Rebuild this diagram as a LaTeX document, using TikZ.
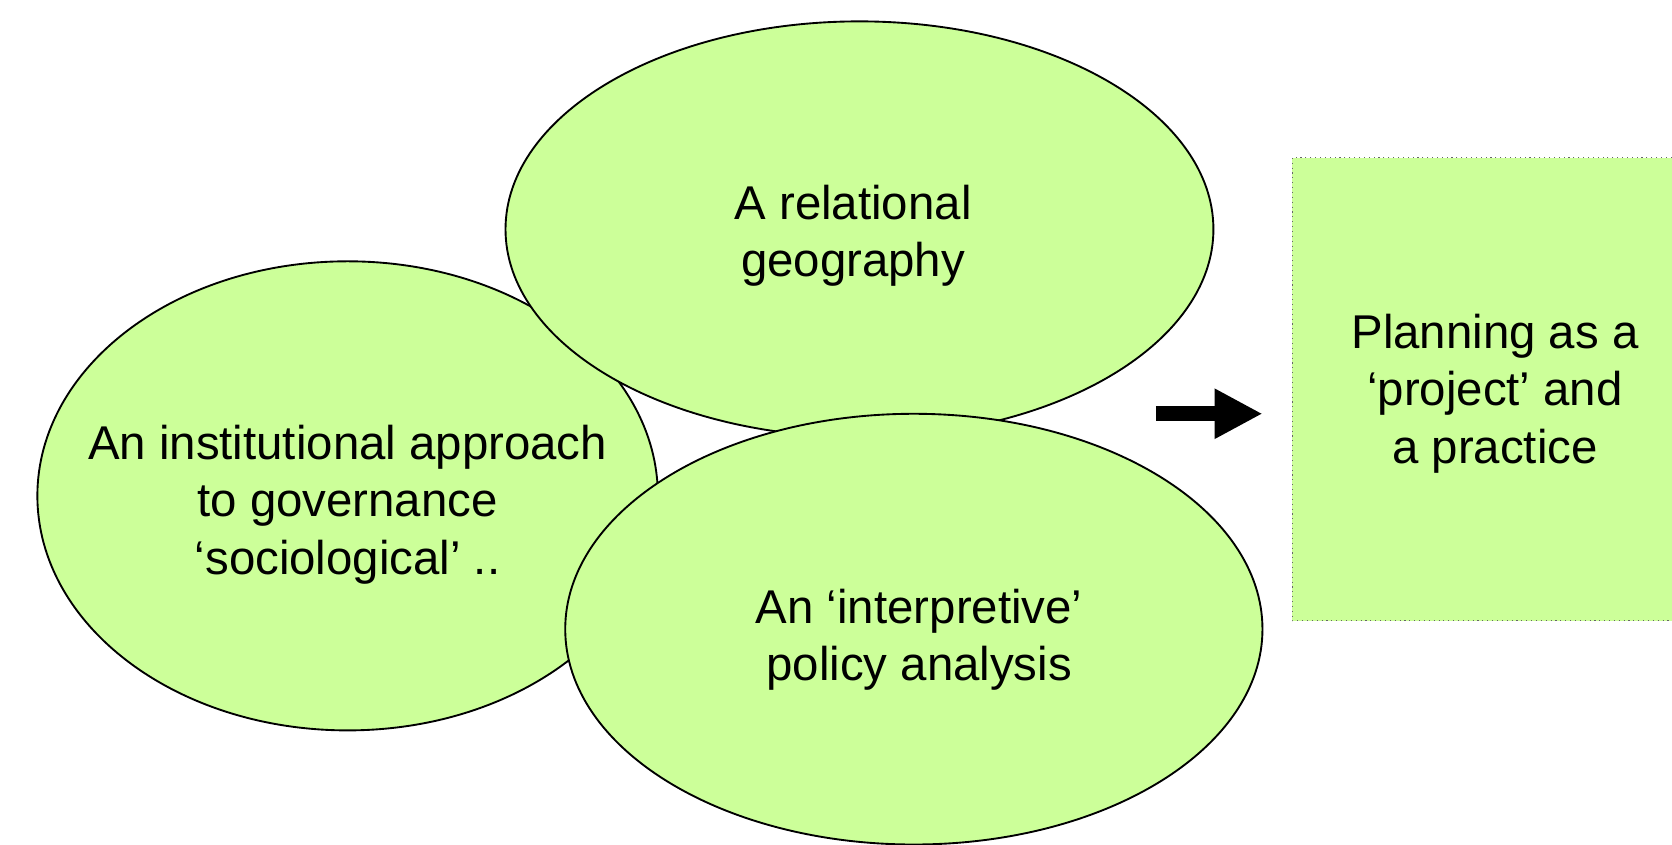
\documentclass[tikz,border=0pt]{standalone}
\usepackage{fontspec}
\setmainfont{Liberation Sans}
\usetikzlibrary{shapes.geometric,arrows.meta}
\definecolor{lgreen}{HTML}{CCFF99}
\begin{document}
\begin{tikzpicture}[x=0.02cm,y=-0.02cm,
  bubble/.style={ellipse, draw=black, line width=1pt, fill=lgreen, inner sep=0pt},
  label/.style={align=center, inner sep=0pt, font={\fontsize{25.3pt}{30.7pt}\selectfont}},
  outbox/.style={draw=black!60, dotted, line width=0.6pt, fill=lgreen},
  blockarrow/.style={line width=0.28cm, -{Triangle[length=0.9cm,width=0.88cm]}}]
\useasboundingbox (0,0) rectangle (1568,792);
\clip (0,0) rectangle (1568,792);
% left ellipse
\node[bubble, minimum width=11.64cm, minimum height=8.8cm] (inst) at (326,465) {};
\node[label] (instT) at (326,473)
  {An institutional approach\\to governance\\‘sociological’ ..};
% top ellipse
\node[bubble, minimum width=13.28cm, minimum height=7.8cm] (rel) at (806,215) {};
\node[label] (relT) at (800,221) {A relational\\geography};
% bottom ellipse
\node[bubble, minimum width=13.08cm, minimum height=8.08cm] (interp) at (857,590) {};
\node[label] (interpT) at (862,600) {An ‘interpretive’\\policy analysis};
% output box
\draw[outbox] (1212,148) rectangle (1600,582);
\node[label] (plan) at (1402,369) {Planning as a\\‘project’ and\\a practice};
% arrow
\coordinate (arrS) at (1084,388);
\coordinate (arrE) at (1184,388);
\draw[blockarrow] (arrS) -- (arrE);
\end{tikzpicture}
\end{document}
